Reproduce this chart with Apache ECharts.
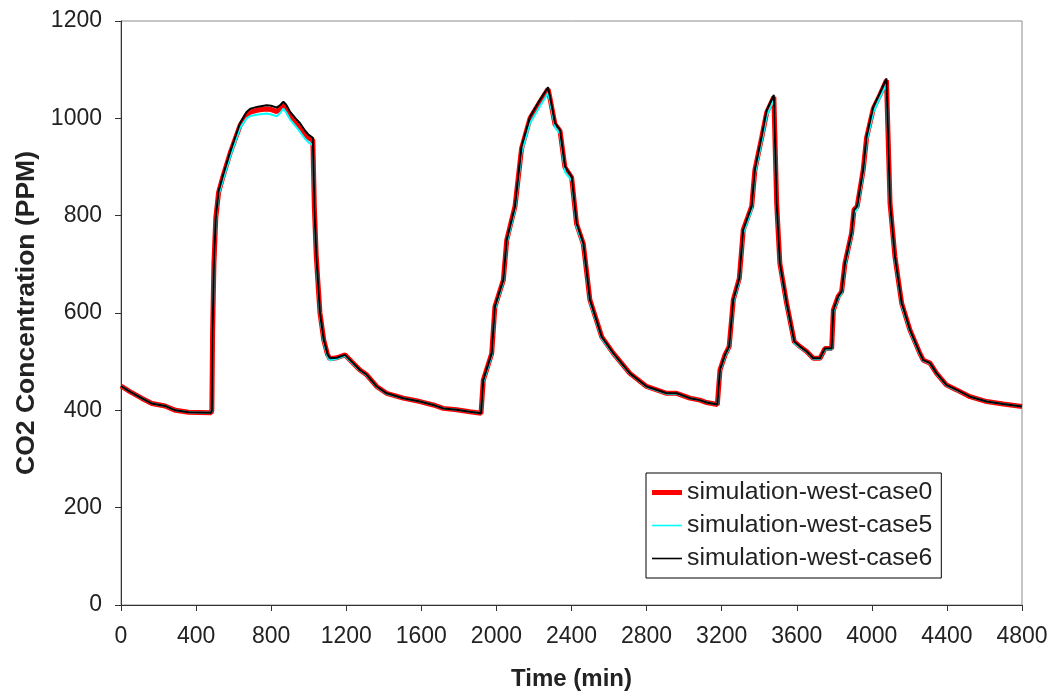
<!DOCTYPE html>
<html>
<head>
<meta charset="utf-8">
<script src="https://cdn.jsdelivr.net/npm/echarts@6/dist/echarts.min.js"></script>
<style>
    html, body { margin: 0; padding: 0; background: #fff; }
    #chart { width: 1056px; height: 698px; }
</style>
</head>
<body>
<div id="chart"></div>
<script>
// time in minutes, shared by all three runs
var times = [0,50,110,165,235,290,360,480,484,488,
    495,505,520,543,581,634,669,690,730,776,
    800,830,850,865,880,900,930,954,980,1000,
    1022,1030,1040,1050,1060,1080,1100,1113,1150,1193,
    1229,1273,1309,1362,1415,1504,1593,1664,1717,1788,
    1859,1918,1930,1975,1992,2037,2055,2099,2134,2179,
    2232,2275,2285,2312,2339,2365,2401,2427,2463,2498,
    2561,2623,2711,2800,2907,2960,3031,3084,3120,3177,
    3191,3218,3240,3262,3294,3315,3360,3377,3413,3440,
    3478,3493,3510,3546,3587,3617,3653,3688,3724,3750,
    3786,3795,3821,3839,3857,3892,3905,3922,3954,3972,
    4008,4043,4078,4097,4123,4159,4203,4256,4274,4310,
    4345,4398,4452,4523,4612,4700,4800];

// CO2 (ppm) per run
var case0 = [450,438,425,414,409,400,396,395,400,560,
    700,795,848,880,928,985,1007,1013,1017,1019,
    1018,1014,1020,1027,1020,1006,992,982,968,960,
    955,818,718,658,600,545,515,506,508,514,
    500,483,473,449,435,425,418,411,404,401,
    397,394,462,517,613,668,750,819,938,1000,
    1034,1060,1042,988,974,899,878,783,742,627,
    551,517,476,449,435,435,425,421,416,412,
    483,514,531,627,671,771,819,894,960,1012,
    1044,825,702,620,541,531,521,507,507,527,
    527,606,634,644,702,764,812,819,894,960,
    1020,1048,1078,825,716,620,565,517,503,497,
    476,452,442,428,418,413,408];

var case5 = [450,438,425,414,409,400,396,395,400,556,
    695,790,843,873,920,980,1000,1005,1008,1010,
    1008,1004,1012,1020,1012,998,984,972,958,950,
    945,810,712,652,594,540,510,503,506,512,
    498,482,472,448,434,425,418,411,404,401,
    397,394,458,513,608,664,744,812,930,990,
    1025,1052,1035,982,968,890,872,778,738,622,
    548,515,475,448,434,434,425,421,416,412,
    480,511,528,622,666,764,812,886,952,1005,
    1038,820,698,616,538,529,520,506,506,525,
    525,602,630,640,696,758,806,812,886,952,
    1012,1042,1070,820,712,616,562,515,502,496,
    475,451,441,428,418,413,408];

var case6 = [450,438,425,414,409,400,396,395,400,560,
    700,795,850,882,930,990,1013,1020,1024,1027,
    1026,1022,1028,1034,1028,1014,1000,990,975,966,
    960,820,720,660,600,545,515,507,508,514,
    500,483,473,449,435,425,418,411,404,401,
    397,394,462,517,613,668,750,819,942,1003,
    1038,1064,1045,990,976,901,880,784,743,627,
    551,517,476,449,435,435,425,421,416,412,
    483,514,531,627,671,771,819,894,962,1017,
    1048,825,702,620,541,531,521,507,507,527,
    527,606,634,644,702,764,812,819,894,962,
    1024,1052,1082,825,716,620,565,517,503,497,
    476,452,442,428,418,413,408];

var seriesNames = ['simulation-west-case0', 'simulation-west-case5', 'simulation-west-case6'];
var colors = ['#ff0000', '#00ffff', '#000000'];

function pairs(vals) {
    var out = [];
    for (var i = 0; i < times.length; i++) {
        out.push([times[i], vals[i]]);
    }
    return out;
}

var dom = document.getElementById("chart");
var myChart = echarts.init(dom, null, {renderer: 'canvas'});
var font = 'Liberation Sans, Arial, sans-serif';

var option = {
    animation: false,
    backgroundColor: '#ffffff',
    textStyle: { fontFamily: font },
    grid: {
        left: 121,
        right: 34,
        top: 21,
        bottom: 93,
        show: true,
        borderColor: '#8c8c8c',
        borderWidth: 1
    },
    legend: {
        orient: 'vertical',
        left: 646,
        top: 473,
        padding: [7, 9, 7, 6],
        itemGap: 8,
        itemWidth: 30,
        itemHeight: 24,
        itemTextGap: 6,
        borderColor: '#000',
        borderWidth: 1,
        backgroundColor: '#fff',
        itemStyle: { borderWidth: 0 },
        textStyle: { fontSize: 24.8, color: '#222', fontFamily: font },
        data: [
            { name: seriesNames[0], icon: 'path://M0,0H30V5H0Z' },
            { name: seriesNames[1], icon: 'path://M0,0H30V1.6H0Z' },
            { name: seriesNames[2], icon: 'path://M0,0H30V1.6H0Z' }
        ]
    },
    xAxis: {
        type: 'value',
        min: 0,
        max: 4800,
        interval: 400,
        name: 'Time (min)',
        nameLocation: 'middle',
        nameGap: 62,
        nameTextStyle: { fontSize: 24, fontWeight: 'bold', color: '#222', fontFamily: font },
        axisLine: { show: true, onZero: false, lineStyle: { color: '#333', width: 1 } },
        axisTick: { show: true, inside: false, length: 6, lineStyle: { color: '#333' } },
        axisLabel: {
            fontSize: 23, color: '#222', margin: 20, fontFamily: font,
            formatter: function (v) { return String(v); }
        },
        splitLine: { show: false }
    },
    yAxis: {
        type: 'value',
        min: 0,
        max: 1200,
        interval: 200,
        name: 'CO2 Concentration (PPM)',
        nameLocation: 'middle',
        nameGap: 77,
        nameTextStyle: { fontSize: 26.5, fontWeight: 'bold', color: '#222', fontFamily: font },
        axisLine: { show: true, onZero: false, lineStyle: { color: '#333', width: 1 } },
        axisTick: { show: true, inside: false, length: 6, lineStyle: { color: '#333' } },
        axisLabel: {
            fontSize: 23, color: '#222', margin: 19, fontFamily: font,
            formatter: function (v) { return String(v); }
        },
        splitLine: { show: false }
    },
    series: [
        {
            name: seriesNames[0],
            type: 'line',
            symbol: 'none',
            showSymbol: false,
            lineStyle: { color: colors[0], width: 5 },
            itemStyle: { color: colors[0] },
            data: pairs(case0)
        },
        {
            name: seriesNames[1],
            type: 'line',
            symbol: 'none',
            showSymbol: false,
            lineStyle: { color: colors[1], width: 2 },
            itemStyle: { color: colors[1] },
            data: pairs(case5)
        },
        {
            name: seriesNames[2],
            type: 'line',
            symbol: 'none',
            showSymbol: false,
            lineStyle: { color: colors[2], width: 2 },
            itemStyle: { color: colors[2] },
            data: pairs(case6)
        }
    ]
};
myChart.setOption(option, true);
</script>
</body>
</html>
